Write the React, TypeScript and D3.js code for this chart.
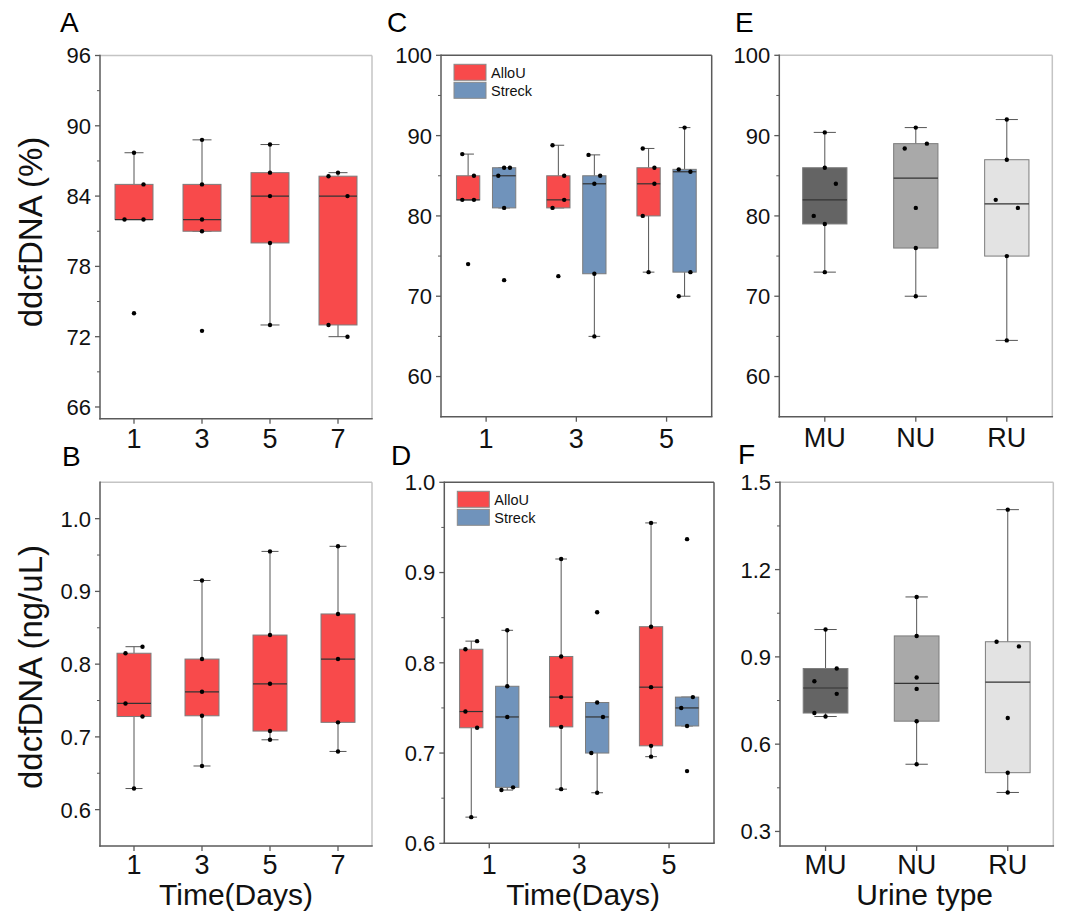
import React from "react";
import * as d3 from "d3";

const FONT = "'Liberation Sans', Arial, Helvetica, sans-serif";

// ---- categories ----
const days4 = ["1", "3", "5", "7"];
const days3 = ["1", "3", "5"];
const urineTypes = ["MU", "NU", "RU"];
const seriesNames = ["AlloU", "Streck"];

// ---- box statistics: q1, median, q3, whisker low/high, raw points, point jitter slot ----
type BoxStat = { q1: number; med: number; q3: number; lo: number; hi: number; pts: number[]; jit: number[] };

// ddcfDNA fraction (%), AlloU, days 1-7
const pctAlloU7: BoxStat[] = [
  { q1: 82, med: 82, q3: 85, lo: 82, hi: 87.7, pts: [87.7, 85, 82, 82, 74], jit: [0, 1, -1, 1, 0] },
  { q1: 81, med: 82, q3: 85, lo: 81, hi: 88.8, pts: [88.8, 85, 82, 81, 72.5], jit: [0, 0, 0, 0, 0] },
  { q1: 80, med: 84, q3: 86, lo: 73, hi: 88.4, pts: [88.4, 86, 84, 80, 73], jit: [0, 0, 0, 0, 0] },
  { q1: 73, med: 84, q3: 85.7, lo: 72, hi: 86, pts: [86, 85.7, 84, 73, 72], jit: [0, -1, 1, -1, 1] },
];

// ddcfDNA concentration (ng/uL), AlloU, days 1-7
const concAlloU7: BoxStat[] = [
  { q1: 0.728, med: 0.746, q3: 0.815, lo: 0.629, hi: 0.824, pts: [0.824, 0.815, 0.746, 0.728, 0.629], jit: [1, -1, -1, 1, 0] },
  { q1: 0.729, med: 0.762, q3: 0.807, lo: 0.66, hi: 0.915, pts: [0.915, 0.807, 0.762, 0.729, 0.66], jit: [0, 0, 0, 0, 0] },
  { q1: 0.708, med: 0.773, q3: 0.84, lo: 0.696, hi: 0.955, pts: [0.955, 0.84, 0.773, 0.708, 0.696], jit: [0, 0, 0, 0, 0] },
  { q1: 0.72, med: 0.807, q3: 0.869, lo: 0.68, hi: 0.962, pts: [0.962, 0.869, 0.807, 0.72, 0.68], jit: [0, 0, 0, 0, 0] },
];

// ddcfDNA fraction (%), AlloU vs Streck, days 1-5
const pctAlloU5: BoxStat[] = [
  { q1: 82, med: 82, q3: 85, lo: 82, hi: 87.7, pts: [87.7, 85, 82, 82, 74], jit: [-1, 1, -1, 1, 0] },
  { q1: 81, med: 82, q3: 85, lo: 81, hi: 88.8, pts: [88.8, 85, 82, 81, 72.5], jit: [-1, 1, 1, -1, 0] },
  { q1: 80, med: 84, q3: 86, lo: 73, hi: 88.4, pts: [88.4, 86, 84, 80, 73], jit: [-1, 1, 1, -1, 0] },
];
const pctStreck5: BoxStat[] = [
  { q1: 81, med: 85, q3: 86, lo: 81, hi: 86, pts: [86, 86, 85, 81, 72], jit: [0, 1, -1, 0, 0] },
  { q1: 72.8, med: 84, q3: 85, lo: 65, hi: 87.6, pts: [87.6, 85, 84, 72.8, 65], jit: [-1, 1, 0, 0, 0] },
  { q1: 73, med: 85.5, q3: 85.8, lo: 70, hi: 91, pts: [91, 85.8, 85.5, 73, 70], jit: [0, -1, 1, 1, -1] },
];

// ddcfDNA concentration (ng/uL), AlloU vs Streck, days 1-5
const concAlloU5: BoxStat[] = [
  { q1: 0.728, med: 0.746, q3: 0.815, lo: 0.629, hi: 0.824, pts: [0.824, 0.815, 0.746, 0.728, 0.629], jit: [1, -1, -1, 1, 0] },
  { q1: 0.729, med: 0.762, q3: 0.807, lo: 0.66, hi: 0.915, pts: [0.915, 0.807, 0.762, 0.729, 0.66], jit: [0, 0, 0, 0, 0] },
  { q1: 0.708, med: 0.773, q3: 0.84, lo: 0.696, hi: 0.955, pts: [0.955, 0.84, 0.773, 0.708, 0.696], jit: [0, 0, 0, 0, 0] },
];
const concStreck5: BoxStat[] = [
  { q1: 0.662, med: 0.74, q3: 0.774, lo: 0.659, hi: 0.836, pts: [0.836, 0.774, 0.74, 0.662, 0.659], jit: [0, 0, 0, 1, -1] },
  { q1: 0.7, med: 0.74, q3: 0.756, lo: 0.656, hi: 0.756, pts: [0.856, 0.756, 0.74, 0.7, 0.656], jit: [0, 0, 1, -1, 0] },
  { q1: 0.73, med: 0.75, q3: 0.762, lo: 0.73, hi: 0.762, pts: [0.937, 0.762, 0.75, 0.73, 0.68], jit: [0, 1, -1, 0, 0] },
];

// by urine type
const pctUrine: BoxStat[] = [
  { q1: 79, med: 82, q3: 86, lo: 73, hi: 90.4, pts: [90.4, 86, 84, 80, 79, 73], jit: [0, 0, 1, -1, 0, 0] },
  { q1: 76, med: 84.7, q3: 89, lo: 70, hi: 91, pts: [91, 89, 88.4, 81, 76, 70], jit: [0, 1, -1, 0, 0, 0] },
  { q1: 75, med: 81.5, q3: 87, lo: 64.5, hi: 92, pts: [92, 87, 82, 81, 75, 64.5], jit: [0, 0, -1, 1, 0, 0] },
];
const concUrine: BoxStat[] = [
  { q1: 0.707, med: 0.793, q3: 0.86, lo: 0.695, hi: 0.994, pts: [0.994, 0.86, 0.816, 0.773, 0.707, 0.695], jit: [0, 1, -1, 1, -1, 0] },
  { q1: 0.679, med: 0.809, q3: 0.972, lo: 0.531, hi: 1.106, pts: [1.106, 0.972, 0.829, 0.79, 0.679, 0.531], jit: [0, 0, 0, 0, 0, 0] },
  { q1: 0.502, med: 0.813, q3: 0.952, lo: 0.434, hi: 1.406, pts: [1.406, 0.952, 0.936, 0.69, 0.502, 0.434], jit: [0, -1, 1, 0, 0, 0] },
];

// ---- y-axis ticks ----
const pctTicksA = [66, 72, 78, 84, 90, 96];
const pctTicksC = [60, 70, 80, 90, 100];
const concTicksB = [0.6, 0.7, 0.8, 0.9, 1.0];
const concTicksF = [0.3, 0.6, 0.9, 1.2, 1.5];

const RED = "#f84a4b";
const BLUE = "#7093bb";
const GRAYS = ["#646464", "#a9a9a9", "#e3e3e3"];

type Series = { boxes: BoxStat[]; fills: string[]; offset: number };

type PanelProps = {
  letter: string;
  letterX: number;
  letterY: number;
  left: number;
  right: number;
  top: number;
  bottom: number;
  domain: [number, number];
  ticks: number[];
  minorStep: number;
  fmt: (v: number) => string;
  cats: string[];
  series: Series[];
  boxW: number;
  lightFrame: boolean;
  yTitle?: string;
  yTitleY?: number;
  xTitle?: string;
  xTitleDx?: number;
  legend?: boolean;
  xLabelY: number;
};

function Panel(p: PanelProps) {
  const y = d3.scaleLinear().domain(p.domain).range([p.bottom, p.top]);
  const x = d3.scalePoint<string>().domain(p.cats).range([p.left, p.right]).padding(0.5);
  const axisColor = "#5a5a5a";
  const farColor = p.lightFrame ? "#c4c4c4" : "#5a5a5a";
  const minor: number[] = [];
  for (let i = 0; i < p.ticks.length - 1; i++) {
    minor.push(p.ticks[i] + p.minorStep);
  }
  if (p.ticks[0] - p.minorStep > p.domain[0]) minor.push(p.ticks[0] - p.minorStep);
  const cap = p.boxW / 2;
  const jitStep = p.boxW * 0.25;

  return (
    <g>
      <text x={p.letterX} y={p.letterY} fontSize={28} fontFamily={FONT} fill="#000">
        {p.letter}
      </text>
      {/* frame */}
      <line x1={p.left} x2={p.right} y1={p.top} y2={p.top} stroke={farColor} strokeWidth={1.5} />
      <line x1={p.right} x2={p.right} y1={p.top} y2={p.bottom} stroke={farColor} strokeWidth={1.5} />
      <line x1={p.left} x2={p.left} y1={p.top - 0.75} y2={p.bottom + 0.75} stroke={axisColor} strokeWidth={1.5} />
      <line x1={p.left - 0.75} x2={p.right + 0.75} y1={p.bottom} y2={p.bottom} stroke={axisColor} strokeWidth={1.5} />
      {/* y ticks */}
      {p.ticks.map((t) => (
        <g key={"t" + t}>
          <line x1={p.left - 5} x2={p.left} y1={y(t)} y2={y(t)} stroke={axisColor} strokeWidth={1.3} />
          <text x={p.left - 9} y={y(t)} dy="0.36em" textAnchor="end" fontSize={22} fontFamily={FONT} fill="#111">
            {p.fmt(t)}
          </text>
        </g>
      ))}
      {minor.map((t) => (
        <line key={"m" + t} x1={p.left - 3} x2={p.left} y1={y(t)} y2={y(t)} stroke={axisColor} strokeWidth={1} />
      ))}
      {/* x ticks */}
      {p.cats.map((c) => (
        <g key={"x" + c}>
          <line x1={x(c)!} x2={x(c)!} y1={p.bottom} y2={p.bottom + 5} stroke={axisColor} strokeWidth={1.3} />
          <text x={x(c)!} y={p.xLabelY} textAnchor="middle" fontSize={27} fontFamily={FONT} fill="#111">
            {c}
          </text>
        </g>
      ))}
      {/* boxes */}
      {p.series.map((s, si) =>
        s.boxes.map((b, bi) => {
          const cx = x(p.cats[bi])! + s.offset;
          const fill = s.fills[bi % s.fills.length];
          return (
            <g key={"b" + si + "-" + bi}>
              <line x1={cx} x2={cx} y1={y(b.hi)} y2={y(b.q3)} stroke="#555" strokeWidth={1} />
              <line x1={cx} x2={cx} y1={y(b.q1)} y2={y(b.lo)} stroke="#555" strokeWidth={1} />
              <line x1={cx - cap / 2} x2={cx + cap / 2} y1={y(b.hi)} y2={y(b.hi)} stroke="#555" strokeWidth={1} />
              <line x1={cx - cap / 2} x2={cx + cap / 2} y1={y(b.lo)} y2={y(b.lo)} stroke="#555" strokeWidth={1} />
              <rect
                x={cx - p.boxW / 2}
                y={y(b.q3)}
                width={p.boxW}
                height={y(b.q1) - y(b.q3)}
                fill={fill}
                stroke="#7c7c7c"
                strokeWidth={1}
              />
              <line x1={cx - p.boxW / 2} x2={cx + p.boxW / 2} y1={y(b.med)} y2={y(b.med)} stroke="#333" strokeWidth={1.2} />
              {b.pts.map((v, k) => (
                <circle key={k} cx={cx + b.jit[k] * jitStep} cy={y(v)} r={2.2} fill="#000" />
              ))}
            </g>
          );
        })
      )}
      {p.legend && (
        <g>
          {seriesNames.map((n, i) => (
            <g key={n}>
              <rect
                x={p.left + 13}
                y={p.top + 9 + i * 18}
                width={32}
                height={16}
                fill={i === 0 ? RED : BLUE}
                stroke="#8a8a8a"
                strokeWidth={1}
              />
              <text x={p.left + 50} y={p.top + 17 + i * 18} dy="0.36em" fontSize={14.5} fontFamily={FONT} fill="#111">
                {n}
              </text>
            </g>
          ))}
        </g>
      )}
      {p.yTitle && (
        <text
          transform={`translate(42, ${p.yTitleY}) rotate(-90)`}
          textAnchor="middle"
          fontSize={33}
          fontFamily={FONT}
          fill="#111"
        >
          {p.yTitle}
        </text>
      )}
      {p.xTitle && (
        <text
          x={(p.left + p.right) / 2 + (p.xTitleDx || 0)}
          y={905}
          textAnchor="middle"
          fontSize={30}
          fontFamily={FONT}
          fill="#111"
        >
          {p.xTitle}
        </text>
      )}
    </g>
  );
}

const f0 = (v: number) => d3.format("d")(v);
const f1 = (v: number) => d3.format(".1f")(v);

export default function App() {
  return (
    <div style={{ position: "absolute", left: 0, top: 0, width: 1080, height: 924, background: "#fff" }}>
      <svg width={1080} height={924} style={{ display: "block" }}>
        <rect width={1080} height={924} fill="#fff" />
        <Panel
          letter="A" letterX={60} letterY={32}
          left={100} right={372} top={55.5} bottom={418.7}
          domain={[65, 96]} ticks={pctTicksA} minorStep={3} fmt={f0}
          cats={days4} series={[{ boxes: pctAlloU7, fills: [RED], offset: 0 }]}
          boxW={38} lightFrame={true}
          yTitle="ddcfDNA (%)" yTitleY={232} xLabelY={448}
        />
        <Panel
          letter="B" letterX={62} letterY={466}
          left={100} right={372} top={482.3} bottom={846}
          domain={[0.55, 1.05]} ticks={concTicksB} minorStep={0.05} fmt={f1}
          cats={days4} series={[{ boxes: concAlloU7, fills: [RED], offset: 0 }]}
          boxW={34} lightFrame={true}
          yTitle="ddcfDNA (ng/uL)" yTitleY={667} xTitle="Time(Days)" xLabelY={874}
        />
        <Panel
          letter="C" letterX={387} letterY={32}
          left={441} right={711.7} top={55.3} bottom={416.7}
          domain={[55, 100]} ticks={pctTicksC} minorStep={5} fmt={f0}
          cats={days3}
          series={[
            { boxes: pctAlloU5, fills: [RED], offset: -18 },
            { boxes: pctStreck5, fills: [BLUE], offset: 18 },
          ]}
          boxW={23.3} lightFrame={false} legend={true} xLabelY={448}
        />
        <Panel
          letter="D" letterX={391} letterY={465}
          left={444.3} right={714} top={482.3} bottom={843.3}
          domain={[0.6, 1.0]} ticks={concTicksB} minorStep={0.05} fmt={f1}
          cats={days3}
          series={[
            { boxes: concAlloU5, fills: [RED], offset: -18 },
            { boxes: concStreck5, fills: [BLUE], offset: 18 },
          ]}
          boxW={23.3} lightFrame={false} legend={true}
          xTitle="Time(Days)" xTitleDx={4} xLabelY={874}
        />
        <Panel
          letter="E" letterX={735} letterY={32}
          left={779.3} right={1052.3} top={55.3} bottom={416.7}
          domain={[55, 100]} ticks={pctTicksC} minorStep={5} fmt={f0}
          cats={urineTypes} series={[{ boxes: pctUrine, fills: GRAYS, offset: 0 }]}
          boxW={44.3} lightFrame={true} xLabelY={447}
        />
        <Panel
          letter="F" letterX={738} letterY={464}
          left={780} right={1053.3} top={482.3} bottom={846}
          domain={[0.25, 1.5]} ticks={concTicksF} minorStep={0.15} fmt={f1}
          cats={urineTypes} series={[{ boxes: concUrine, fills: GRAYS, offset: 0 }]}
          boxW={44.7} lightFrame={true}
          xTitle="Urine type" xTitleDx={8} xLabelY={874}
        />
      </svg>
    </div>
  );
}
